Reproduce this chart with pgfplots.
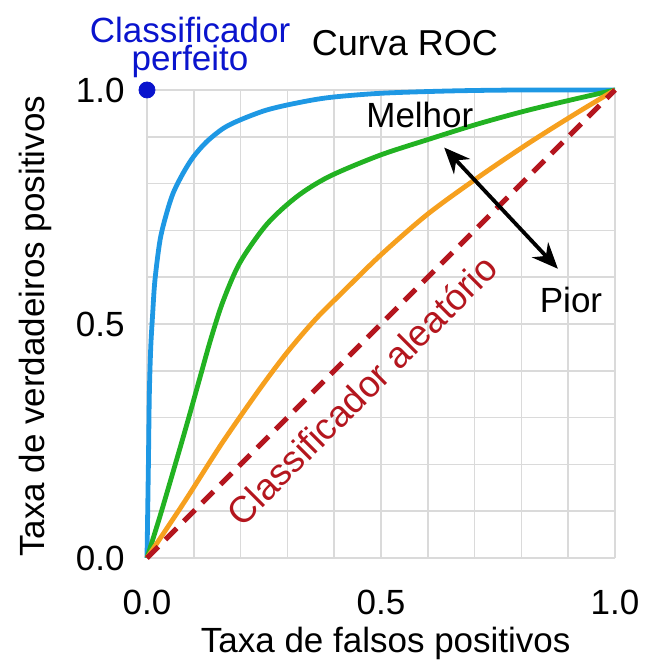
\documentclass[border=0pt]{standalone}
\usepackage{pgfplots}
\pgfplotsset{compat=1.18}
\usepackage{fontspec}
\setmainfont{Liberation Sans}
\usetikzlibrary{arrows.meta}

\definecolor{rocblue}{RGB}{30,152,228}
\definecolor{rocgreen}{RGB}{34,178,34}
\definecolor{rocorange}{RGB}{246,160,30}
\definecolor{rocred}{RGB}{180,22,30}
\definecolor{perfblue}{RGB}{10,20,205}
\definecolor{gridgray}{RGB}{218,218,218}

\newcommand{\bigfont}{\fontsize{17.5}{16}\selectfont}

\begin{document}
\begin{tikzpicture}
  \begin{axis}[
    name=ax,
    at={(0,0)}, anchor=south west,
    scale only axis,
    width=234pt, height=234pt,
    xmin=0, xmax=1, ymin=0, ymax=1,
    clip=false,
    axis line style={draw=none},
    major tick length=0pt, minor tick length=0pt,
    xtick={0,0.5,1}, ytick={0,0.5,1},
    xticklabels={0.0,0.5,1.0}, yticklabels={0.0,0.5,1.0},
    minor xtick={0.1,0.2,0.3,0.4,0.6,0.7,0.8,0.9},
    minor ytick={0.1,0.2,0.3,0.4,0.6,0.7,0.8,0.9},
    grid=both,
    major grid style={gridgray, line width=0.8pt},
    minor grid style={gridgray, line width=0.8pt},
    /pgf/number format/assume math mode=true,
    tick label style={font=\bigfont, inner sep=0pt},
    xticklabel style={anchor=north, yshift=-16pt},
    yticklabel style={anchor=east, xshift=-11pt},
    xlabel={Taxa de falsos positivos},
    ylabel={Taxa de verdadeiros positivos},
    label style={font=\bigfont},
    xlabel style={at={(axis description cs:0.51,-0.182)}, anchor=center},
    ylabel style={at={(axis description cs:-0.239,0.495)}, anchor=center},
  ]
    % curva azul (quase perfeita)
    \addplot[rocblue, line width=2.4pt, smooth, tension=0.5] coordinates {
      (0,0) (0.003,0.2) (0.005,0.35) (0.008,0.45) (0.012,0.52) (0.017,0.594)
      (0.028,0.68) (0.042,0.737) (0.056,0.78) (0.077,0.822) (0.099,0.857)
      (0.127,0.889) (0.163,0.918) (0.199,0.936) (0.255,0.957) (0.319,0.972)
      (0.39,0.984) (0.5,0.993) (0.65,0.998) (0.8,1) (1,1)
    };
    % curva verde
    \addplot[rocgreen, line width=2.4pt, smooth, tension=0.5] coordinates {
      (0,0) (0.028,0.09) (0.056,0.185) (0.085,0.285) (0.113,0.385)
      (0.137,0.47) (0.163,0.55) (0.199,0.632) (0.256,0.713) (0.32,0.772)
      (0.389,0.815) (0.496,0.86) (0.6,0.894) (0.709,0.928) (0.815,0.957)
      (0.92,0.982) (1,1)
    };
    % curva laranja
    \addplot[rocorange, line width=2.4pt, smooth, tension=0.5] coordinates {
      (0,0) (0.08,0.12) (0.16,0.245) (0.24,0.36) (0.3,0.44) (0.36,0.51)
      (0.42,0.57) (0.5,0.648) (0.6,0.735) (0.71,0.815) (0.815,0.886)
      (0.92,0.952) (1,1)
    };
    % classificador aleatorio
    \addplot[rocred, line width=2.5pt, dash pattern=on 8pt off 5pt] coordinates {(0,0) (1,1)};
    % classificador perfeito
    \addplot[perfblue, only marks, mark=*, mark size=4pt] coordinates {(0,1)};

    \draw[black, line width=1.9pt, {Stealth[length=13pt,width=11pt]}-{Stealth[length=13pt,width=11pt]}]
      (axis cs:0.635,0.877) -- (axis cs:0.878,0.618);

    \node[font=\bigfont] at (axis cs:0.583,0.947) {Melhor};
    \node[font=\bigfont] at (axis cs:0.906,0.551) {Pior};
    \node[font=\fontsize{18}{16}\selectfont] at (axis description cs:0.551,1.100) {Curva ROC};
    \node[font=\bigfont, text=perfblue, align=center] at (axis description cs:0.092,1.09)
      {Classificador\\[-2pt]perfeito};
    \node[font=\fontsize{18.5}{16}\selectfont, text=rocred, rotate=45] at (axis cs:0.459,0.359)
      {Classificador aleatório};
  \end{axis}
  \pgfresetboundingbox
  \path[use as bounding box] ([shift={(-73.5pt,-55pt)}]ax.south west) rectangle ([shift={(16.5pt,45pt)}]ax.north east);
\end{tikzpicture}
\end{document}
